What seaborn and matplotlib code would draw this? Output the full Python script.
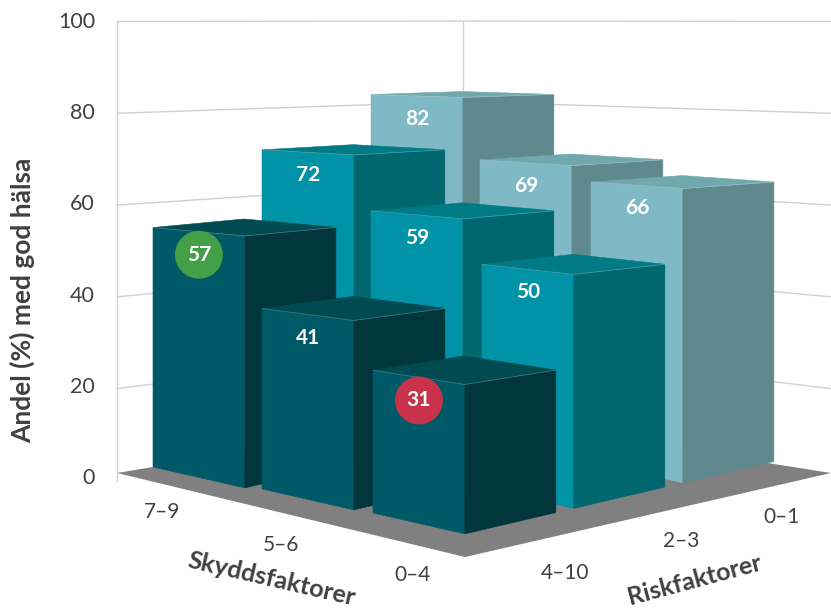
import matplotlib
matplotlib.use("Agg")
import matplotlib.pyplot as plt
import pandas as pd
import seaborn as sns

# Values (andel % med god halsa)
risk_labels = ["4–10", "2–3", "0–1"]
skydd_labels = ["7–9", "5–6", "0–4"]
skydd_7_9 = [57, 72, 82]
skydd_5_6 = [41, 59, 69]
skydd_0_4 = [31, 50, 66]
y_ticks = [0, 20, 40, 60, 80, 100]

# front, side, top colours per risk group
bar_colors = [("#005966", "#00363c", "#004a52"),
              ("#0092a6", "#00676f", "#007a85"),
              ("#80b9c6", "#60898e", "#70a8ad")]
text_grey = "#404040"
badge_colors = {57: "#43a047", 31: "#c8324a"}

sns.set_theme(style="white")
plt.rcParams["font.family"] = ["Lato", "DejaVu Sans"]

values = [skydd_7_9, skydd_5_6, skydd_0_4]
rows = []
for i, skydd in enumerate(skydd_labels):
    for j, risk in enumerate(risk_labels):
        rows.append({"skydd": skydd, "risk": risk, "i": i, "j": j, "value": values[i][j]})
df = pd.DataFrame(rows)

BAR = 0.835  # bar width in grid steps
ROW_X = [153, 262, 373]
ROW_Y = [467, 489, 513]
# px per percent at the near corner of each grid place (perspective of the view)
NEAR_SCALE = [[4.42, 4.27, 4.14],
              [4.62, 4.50, 4.25],
              [4.82, 4.68, 4.46]]


# the oblique view of the chart: bar i, j + offset on its footprint + height -> picture position
def project(i, j, dx, dy, z):
    px = ROW_X[i] + 110 * dx + 109 * (j + dy)
    py = ROW_Y[i] + 25 * dx - 25.5 * (j + dy)
    # height scale shrinks going away from the near corner of the bar
    scale = NEAR_SCALE[i][j] - 0.0105 * (25 * (BAR - dx) + 25.5 * dy)
    return px, py - scale * z


def wall_corners(z):
    return [(117, 480.5 - 4.59 * z), (463, 424 - 4.03 * z), (831, 480.5 - 4.59 * z)]


fig = plt.figure(figsize=(8.31, 6.10), dpi=100)
ax = fig.add_axes([0, 0, 1, 1])

# floor
ax.fill([117, 465, 831, 463], [473, 557, 473, 415], color="#808080", lw=0, zorder=2)

# walls
for tick in y_ticks[1:]:
    pts = wall_corners(tick)
    ax.plot([p[0] for p in pts], [p[1] for p in pts], color="#d0d0d0", lw=1, zorder=1)
for k in [0, 1]:
    ax.plot([wall_corners(0)[k][0]] * 2, [wall_corners(0)[k][1], wall_corners(100)[k][1]],
            color="#d0d0d0", lw=1, zorder=1)

# bars, far ones first
df["depth"] = df["i"] - df["j"]
for n, row in enumerate(df.sort_values("depth").itertuples()):
    v = row.value
    front, side, top = bar_colors[row.j]
    faces = [
        ([(0, 0, 0), (BAR, 0, 0), (BAR, 0, v), (0, 0, v)], front),
        ([(BAR, 0, 0), (BAR, BAR, 0), (BAR, BAR, v), (BAR, 0, v)], side),
        ([(0, 0, v), (BAR, 0, v), (BAR, BAR, v), (0, BAR, v)], top),
    ]
    for corners, color in faces:
        pts = [project(row.i, row.j, *c) for c in corners]
        ax.fill([p[0] for p in pts], [p[1] for p in pts], facecolor=color,
                edgecolor=color, lw=0.4, zorder=3 + n)
    # thin light edges round the top
    edge = [project(row.i, row.j, *c) for c in [(0, 0, v), (BAR, 0, v), (BAR, BAR, v)]]
    ax.plot([p[0] for p in edge], [p[1] for p in edge], color="white", alpha=0.25, lw=0.6, zorder=3 + n)

# value labels and the two badges
df["lx"] = [project(i, j, BAR / 2, 0, v)[0] for i, j, v in zip(df["i"], df["j"], df["value"])]
df["ly"] = [project(i, j, BAR / 2, 0, v)[1] + 23 for i, j, v in zip(df["i"], df["j"], df["value"])]
badges = df[df["value"].isin(badge_colors)]
sns.scatterplot(data=badges, x="lx", y="ly", hue="value", palette=badge_colors, s=1190,
                linewidth=0, legend=False, ax=ax, zorder=30)
for row in df.itertuples():
    ax.text(row.lx, row.ly, str(row.value), color="white", fontsize=15, fontweight="bold",
            ha="center", va="center", zorder=31)

# tick labels
for tick in y_ticks:
    ax.text(95, 478 - 4.56 * tick, str(tick), color=text_grey, fontsize=15.5, ha="right", va="center")
for label, lx, ly in zip(skydd_labels, [162, 281, 413], [512, 545, 575]):
    ax.text(lx, ly, label, color=text_grey, fontsize=15, ha="center", va="center")
for label, lx, ly in zip(risk_labels, [565, 681, 782], [573, 541, 517]):
    ax.text(lx, ly, label, color=text_grey, fontsize=15, ha="center", va="center")

# axis titles
ax.text(22, 300, "Andel (%) med god hälsa", color=text_grey, fontsize=19, fontweight="bold",
        rotation=90, ha="center", va="center")
ax.text(272, 579, "Skyddsfaktorer", color=text_grey, fontsize=18.2, fontweight="bold",
        rotation=-13, ha="center", va="center")
ax.text(695, 580, "Riskfaktorer", color=text_grey, fontsize=18, fontweight="bold",
        rotation=15, ha="center", va="center")

ax.set_xlim(0, 831)
ax.set_ylim(610, 0)
ax.set_axis_off()

fig.savefig("out.png", dpi=100)
